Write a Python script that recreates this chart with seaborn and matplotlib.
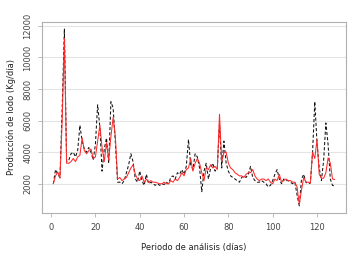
import numpy as np
import pandas as pd
import matplotlib
matplotlib.use("Agg")
import matplotlib.pyplot as plt
import seaborn as sns

days = list(range(1, 129))
observed = [2000, 2900, 2600, 2400, 6800, 11800, 3400, 3500, 3900, 4000,
            3700, 4100, 5700, 4700, 4200, 4000, 4300, 4000, 3500, 4500,
            7000, 5600, 2800, 4200, 4900, 3300, 7200, 6800, 4600, 2100,
            2100, 2000, 2200, 2700, 3200, 3900, 3400, 2300, 2100, 2800,
            2200, 1900, 2600, 2000, 2100, 2000, 1900, 2000, 1900, 2000,
            1950, 2100, 2000, 2400, 2500, 2300, 2700, 2600, 2900, 2600,
            3100, 4800, 3200, 2900, 3900, 3700, 3000, 1500, 2800, 3300,
            2300, 3000, 3300, 2800, 3000, 5800, 3000, 4700, 3300, 2800,
            2500, 2400, 2300, 2200, 2100, 2400, 2500, 2400, 2600, 3100,
            2400, 2200, 2100, 2100, 2200, 2100, 2000, 1800, 1900, 2200,
            2600, 2900, 2300, 2000, 2300, 2200, 2200, 2100, 2000, 2100,
            1300, 600, 2300, 2600, 2100, 2000, 2050, 4000, 7200, 4600,
            3000, 2200, 3500, 5850, 4500, 2300, 1900, 1850]
predicted = [2000, 2500, 2750, 2350, 6000, 11200, 3300, 3300, 3400, 3600,
             3400, 3700, 3800, 4900, 4100, 3900, 4100, 4200, 3600, 3700,
             4700, 5700, 4300, 3400, 4600, 3500, 5000, 6200, 5000, 2300,
             2400, 2200, 2300, 2400, 2700, 3000, 3200, 2600, 2300, 2200,
             2500, 2100, 2300, 2100, 2200, 2100, 2100, 2050, 2000, 2000,
             2100, 2000, 2000, 2200, 2100, 2300, 2200, 2400, 2700, 2500,
             2900, 3000, 3600, 2800, 3300, 3600, 3300, 2700, 2200, 3000,
             2900, 3200, 3000, 3100, 2900, 6400, 3400, 4000, 4000, 3300,
             3000, 2900, 2700, 2600, 2500, 2500, 2400, 2600, 2700, 2700,
             2900, 2500, 2300, 2200, 2300, 2300, 2200, 2300, 2100, 2000,
             2300, 2200, 2600, 2100, 2200, 2300, 2200, 2200, 2100, 2100,
             1800, 700, 1600, 2400, 2100, 2100, 2050, 4000, 3600, 4800,
             2600, 2350, 2350, 2700, 3640, 3300, 2300, 2270]

df = pd.DataFrame({"dia": days * 2,
                   "valor": observed + predicted,
                   "serie": ["obs"] * len(days) + ["pred"] * len(days)})

sns.set_style("white")
fig = plt.figure(figsize=(3.56, 2.61), dpi=100)
ax = fig.add_axes([0.118, 0.184, 0.854, 0.732])

sns.lineplot(data=df[df.serie == "obs"], x="dia", y="valor", ax=ax,
             color="#111111", lw=0.75, linestyle=(0, (3, 2)), legend=False)
sns.lineplot(data=df[df.serie == "pred"], x="dia", y="valor", ax=ax,
             color="#ff2a2a", lw=0.75, legend=False)

ax.set_xlim(-4.1, 133.1)
ax.set_ylim(150, 12250)
ax.set_xticks([0, 20, 40, 60, 80, 100, 120])
ax.set_yticks([2000, 4000, 6000, 8000, 10000, 12000])
ax.yaxis.grid(True, color="#e4e4e4", lw=0.8)
ax.set_axisbelow(True)
for s in ax.spines.values():
    s.set_color("#b0b0b0")
    s.set_linewidth(0.8)
ax.tick_params(axis="both", direction="out", length=3, width=0.6,
               color="#b0b0b0", labelsize=6, labelcolor="#444444", pad=4,
               left=True, bottom=True)
for lab in ax.get_yticklabels():
    lab.set_rotation(90)
    lab.set_va("center")
ax.set_xlabel("Periodo de análisis (días)", fontsize=6, color="#222222", labelpad=8)
ax.set_ylabel("Producción de lodo (Kg/día)", fontsize=6, color="#222222", labelpad=5)

fig.savefig("out.png", dpi=100)
